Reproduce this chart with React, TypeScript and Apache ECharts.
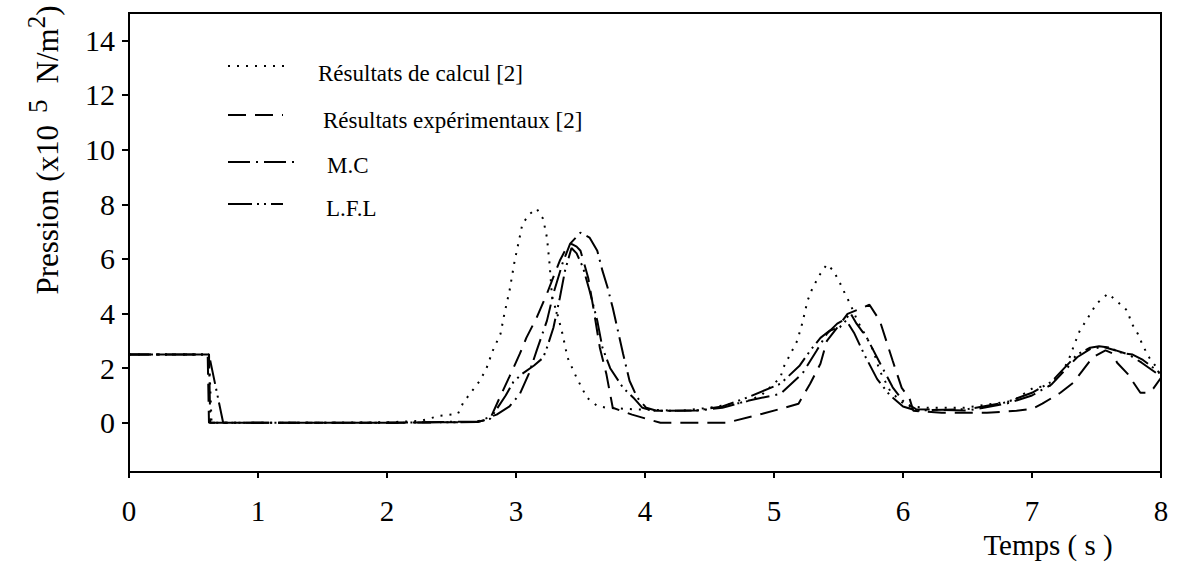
import React, { useEffect, useRef } from "react";
import * as echarts from "echarts";

const xTicks = [0, 1, 2, 3, 4, 5, 6, 7, 8];
const yTicks = [0, 2, 4, 6, 8, 10, 12, 14];

const seriesNames = [
  "Résultats de calcul [2]",
  "Résultats expérimentaux [2]",
  "M.C",
  "L.F.L",
];

const calcul: [number, number][] = [
  [0, 2.5], [0.62, 2.5], [0.64, 0], [1, 0], [1.5, 0], [2.0, 0.02], [2.26, 0.07], [2.41, 0.26],
  [2.55, 0.33], [2.59, 0.73], [2.66, 1.17], [2.72, 1.54], [2.77, 1.98], [2.82, 2.64], [2.88, 3.26],
  [2.91, 3.99], [2.95, 4.84], [2.99, 5.94], [3.02, 6.6], [3.05, 7.29], [3.11, 7.66], [3.16, 7.84],
  [3.21, 7.47], [3.24, 6.78], [3.26, 5.83], [3.28, 4.58], [3.32, 3.99], [3.36, 3.26], [3.4, 2.38],
  [3.47, 1.65], [3.55, 0.92], [3.63, 0.62], [3.7, 0.55], [3.9, 0.5], [4.27, 0.44], [4.5, 0.55],
  [4.68, 0.7], [4.76, 0.73], [4.9, 1.0], [5.05, 1.65], [5.07, 2.0], [5.12, 2.45], [5.18, 3.0],
  [5.22, 3.66], [5.26, 4.47], [5.3, 4.95], [5.36, 5.46], [5.41, 5.8], [5.46, 5.57], [5.51, 5.13],
  [5.55, 4.73], [5.59, 4.36], [5.65, 3.7], [5.72, 3.11], [5.77, 2.64], [5.82, 1.9], [5.9, 1.17],
  [5.98, 0.8], [6.03, 0.6], [6.2, 0.55], [6.47, 0.55], [6.7, 0.7], [6.85, 0.8], [7.01, 1.28],
  [7.14, 1.36], [7.24, 1.9], [7.29, 2.38], [7.33, 2.89], [7.37, 3.37], [7.42, 3.74], [7.5, 4.36],
  [7.59, 4.73], [7.67, 4.4], [7.74, 4.1], [7.77, 3.66], [7.82, 3.26], [7.86, 2.82], [7.91, 2.38],
  [7.97, 2.0], [8.0, 1.65],
];

const experimental: [number, number][] = [
  [0, 2.5], [0.61, 2.5], [0.62, 0], [1, 0], [2, 0], [2.7, 0.03], [2.8, 0.15], [2.88, 0.99],
  [2.95, 1.7], [3.03, 2.53], [3.08, 3.11], [3.16, 3.85], [3.24, 4.73], [3.34, 5.94], [3.38, 6.3],
  [3.43, 6.55], [3.47, 6.45], [3.5, 6.3], [3.56, 5.3], [3.6, 4.2], [3.65, 2.75], [3.7, 1.8],
  [3.75, 0.55], [3.9, 0.3], [4.01, 0.15], [4.12, 0], [4.63, 0], [4.91, 0.33], [5.05, 0.51],
  [5.19, 0.7], [5.28, 1.43], [5.36, 2.16], [5.41, 3.0], [5.49, 3.48], [5.57, 3.99], [5.67, 4.18],
  [5.74, 4.32], [5.82, 3.74], [5.92, 2.27], [5.99, 1.28], [6.05, 0.9], [6.08, 0.44], [6.3, 0.37],
  [6.65, 0.37], [6.88, 0.44], [7.0, 0.51], [7.08, 0.7], [7.22, 1.1], [7.32, 1.47], [7.39, 1.9],
  [7.47, 2.4], [7.57, 2.65], [7.62, 2.55], [7.66, 2.2], [7.74, 1.8], [7.84, 1.1], [7.89, 1.1],
  [7.94, 1.25], [8.0, 1.65],
];

const mc: [number, number][] = [
  [0, 2.5], [0.62, 2.5], [0.63, 0], [1, 0], [2, 0], [2.7, 0.05], [2.85, 0.3], [2.95, 0.6],
  [3.03, 1.06], [3.1, 1.8], [3.16, 2.64], [3.24, 3.74], [3.29, 4.73], [3.36, 5.83], [3.42, 6.56],
  [3.5, 6.96], [3.57, 6.78], [3.63, 6.3], [3.67, 5.57], [3.71, 4.95], [3.75, 4.21], [3.79, 3.37],
  [3.83, 2.53], [3.88, 1.54], [3.94, 0.92], [4.01, 0.55], [4.09, 0.44], [4.4, 0.45], [4.6, 0.55],
  [4.79, 0.8], [5.05, 1.06], [5.22, 1.8], [5.33, 2.64], [5.41, 3.26], [5.49, 3.63], [5.56, 3.81],
  [5.59, 4.03], [5.64, 3.63], [5.72, 3.11], [5.82, 2.2], [5.92, 1.3], [6.0, 0.8], [6.1, 0.5],
  [6.5, 0.45], [6.8, 0.7], [7.0, 1.0], [7.15, 1.4], [7.25, 1.9], [7.35, 2.4], [7.45, 2.7],
  [7.55, 2.78], [7.65, 2.65], [7.75, 2.5], [7.85, 2.2], [8.0, 1.7],
];

const lfl: [number, number][] = [
  [0, 2.5], [0.62, 2.5], [0.73, 0], [1, 0], [2, 0], [2.7, 0.03], [2.8, 0.15], [2.85, 0.5],
  [2.92, 1.0], [2.98, 1.5], [3.05, 1.8], [3.14, 2.1], [3.21, 2.38], [3.24, 2.75], [3.29, 3.48],
  [3.34, 4.58], [3.38, 5.57], [3.43, 6.4], [3.47, 6.2], [3.52, 5.68], [3.57, 4.84], [3.63, 3.74],
  [3.67, 2.75], [3.73, 2.0], [3.83, 1.28], [3.91, 0.92], [3.98, 0.55], [4.06, 0.44], [4.4, 0.45],
  [4.6, 0.6], [4.79, 0.92], [5.05, 1.43], [5.2, 2.1], [5.28, 2.64], [5.36, 3.11], [5.43, 3.37],
  [5.51, 3.5], [5.56, 3.75], [5.62, 3.3], [5.7, 2.5], [5.8, 1.6], [5.9, 1.0], [6.0, 0.6],
  [6.1, 0.45], [6.5, 0.5], [6.8, 0.75], [7.0, 1.1], [7.15, 1.5], [7.25, 2.0], [7.35, 2.5],
  [7.45, 2.75], [7.52, 2.8], [7.6, 2.75], [7.7, 2.55], [7.78, 2.5], [7.86, 2.3], [8.0, 1.8],
];

const seriesData = [calcul, experimental, mc, lfl];
const dashes: number[][] = [
  [2, 7],
  [18, 9],
  [22, 6, 2, 6],
  [24, 5, 2, 5, 2, 5],
];

const FONT = "Liberation Serif";

export default function App() {
  const ref = useRef<HTMLDivElement>(null);
  useEffect(() => {
    if (!ref.current) return;
    const chart = echarts.init(ref.current, null, { renderer: "svg" });
    const legendY = [66, 115, 162, 204];
    const legendTextX = [318, 323, 327, 326];
    const legendTextY = [73, 120, 165, 208];
    const legendGraphics: any[] = [];
    seriesNames.forEach((n, i) => {
      legendGraphics.push({
        type: "line",
        shape: { x1: 228, y1: legendY[i], x2: i === 2 ? 300 : i === 0 ? 291 : 283, y2: legendY[i] },
        style: { stroke: "#000", lineWidth: 2, lineDash: dashes[i] },
      });
      legendGraphics.push({
        type: "text",
        x: legendTextX[i],
        y: legendTextY[i],
        style: {
          text: n,
          font: `23px "${FONT}"`,
          fill: "#000",
          verticalAlign: "middle",
          align: "left",
        },
      });
    });
    chart.setOption({
      animation: false,
      backgroundColor: "#fff",
      grid: {
        left: 129,
        right: 24,
        top: 13,
        bottom: 104,
        show: true,
        borderColor: "#000",
        borderWidth: 2,
      },
      xAxis: {
        type: "value",
        min: 0,
        max: 8,
        interval: 1,
        splitLine: { show: false },
        axisLine: { onZero: false, lineStyle: { color: "#000", width: 2 } },
        axisTick: { show: true, length: 6, lineStyle: { color: "#000", width: 2 } },
        axisLabel: {
          color: "#000",
          fontFamily: FONT,
          fontSize: 29,
          lineHeight: 24,
          margin: 27,
          formatter: (v: number) => (xTicks.includes(v) ? String(v) : ""),
        },
      },
      yAxis: {
        type: "value",
        min: -1.8,
        max: 15,
        splitLine: { show: false },
        axisLine: { onZero: false, lineStyle: { color: "#000", width: 2 } },
        axisTick: {
          show: true,
          length: 7,
          customValues: yTicks,
          lineStyle: { color: "#000", width: 2 },
        },
        axisLabel: {
          color: "#000",
          fontFamily: FONT,
          fontSize: 30,
          margin: 14,
          customValues: yTicks,
        },
      },
      series: seriesData.map((d, i) => ({
        type: "line",
        name: seriesNames[i],
        data: d,
        symbol: "none",
        smooth: false,
        lineStyle: { color: "#000", width: 2, type: dashes[i], cap: "butt" },
      })),
      graphic: [
        ...legendGraphics,
        {
          type: "text",
          x: 1048,
          y: 545,
          style: {
            text: "Temps ( s )",
            font: `29px "${FONT}"`,
            lineHeight: 24,
            fill: "#000",
            align: "center",
            verticalAlign: "middle",
          },
        },
        {
          type: "text",
          x: 46,
          y: 150,
          rotation: Math.PI / 2,
          style: {
            text: "{a|Pression (x10}{s|5}{a|N/m}{t|2}{a|)}",
            align: "center",
            verticalAlign: "middle",
            fill: "#000",
            rich: {
              a: { fontFamily: FONT, fontSize: 31, lineHeight: 34, verticalAlign: "bottom", fill: "#000" },
              s: { fontFamily: FONT, fontSize: 27, lineHeight: 34, verticalAlign: "bottom", padding: [0, 16, 12, 12], fill: "#000" },
              t: { fontFamily: FONT, fontSize: 25, lineHeight: 34, verticalAlign: "bottom", padding: [0, 0, 14, 0], fill: "#000" },
            },
          },
        },
      ],
    });
    return () => chart.dispose();
  }, []);
  return <div ref={ref} style={{ width: 1185, height: 576, position: "absolute", left: 0, top: 0 }} />;
}
